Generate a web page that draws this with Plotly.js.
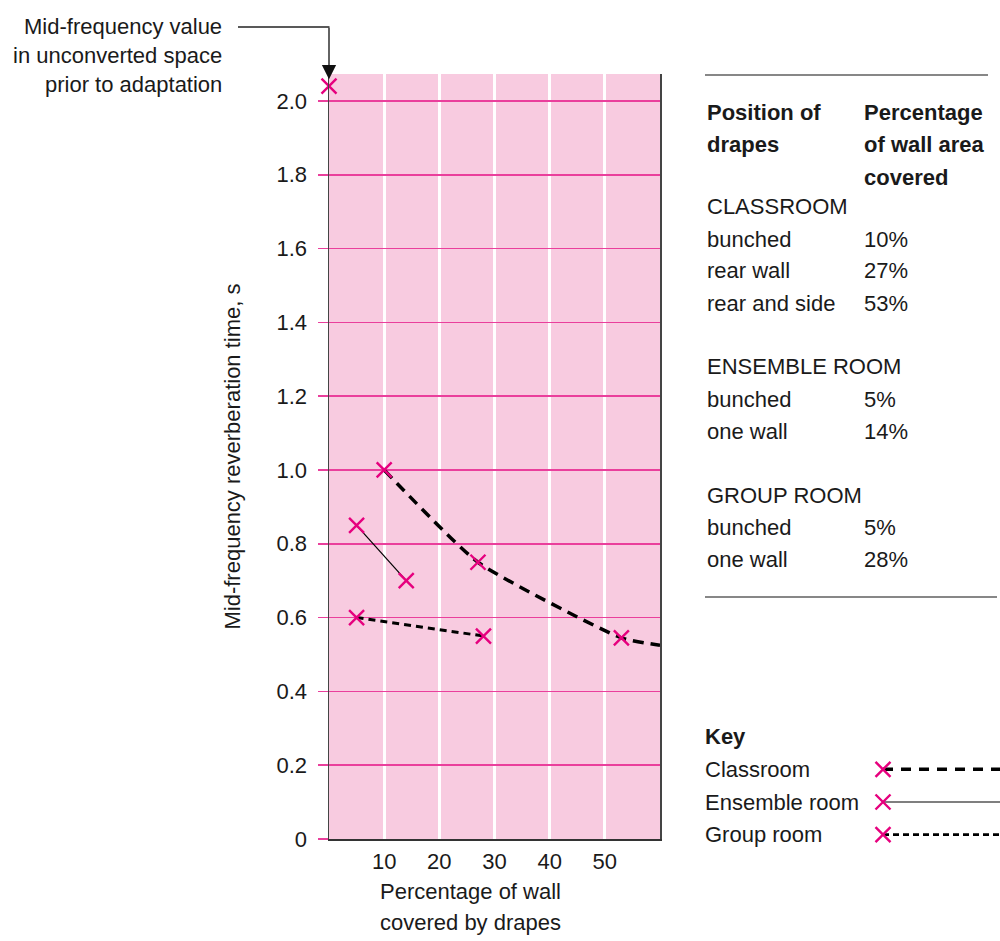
<!DOCTYPE html>
<html>
<head>
<meta charset="utf-8">
<script src="https://cdn.plot.ly/plotly-3.0.1.min.js"></script>
<style>html,body{margin:0;padding:0;background:#fff;}#chart{width:1000px;height:941px;}</style>
</head>
<body>
<div id="chart"></div>
<script>
// ---- data ----
const unconvertedPct = [0];
const unconvertedRT = [2.04];

const classroomPct = [10, 27, 53];
const classroomRT = [1.00, 0.75, 0.545];
const classroomTrendPct = [10, 27, 53, 60];
const classroomTrendRT = [1.00, 0.75, 0.545, 0.525];

const ensemblePct = [5, 14];
const ensembleRT = [0.85, 0.70];

const groupPct = [5, 28];
const groupRT = [0.60, 0.55];

const xTickVals = [10, 20, 30, 40, 50];
const yTickVals = [0, 0.2, 0.4, 0.6, 0.8, 1.0, 1.2, 1.4, 1.6, 1.8, 2.0];
const yTickText = ['0', '0.2', '0.4', '0.6', '0.8', '1.0', '1.2', '1.4', '1.6', '1.8', '2.0'];

const tableGroups = ['CLASSROOM', 'ENSEMBLE ROOM', 'GROUP ROOM'];
const classroomPositions = ['bunched', 'rear wall', 'rear and side'];
const classroomCoverage = [10, 27, 53];
const ensemblePositions = ['bunched', 'one wall'];
const ensembleCoverage = [5, 14];
const groupPositions = ['bunched', 'one wall'];
const groupCoverage = [5, 28];

const keyLabels = ['Classroom', 'Ensemble room', 'Group room'];

// ---- styling ----
const W = 1000, H = 941;
const px = x => x / W;
const py = y => (H - y) / H;
const FONT = 'Liberation Sans, Arial, sans-serif';
const TXT = '#1a1a1a';
const MAG = '#e6007e';
const PINK_BG = '#f8cbe0';
const PINK_GRID = '#ea3f9c';
const FS = 22;

const markerStyle = {symbol: 'x-thin', size: 15, color: MAG, line: {color: MAG, width: 2.4}};

const traces = [
  {x: classroomTrendPct, y: classroomTrendRT, mode: 'lines', line: {color: '#000', width: 3.5, dash: '11px,7px', shape: 'spline', smoothing: 0.5}},
  {x: ensemblePct, y: ensembleRT, mode: 'lines', line: {color: '#000', width: 1.2}},
  {x: groupPct, y: groupRT, mode: 'lines', line: {color: '#000', width: 3, dash: '7px,5px'}},
  {x: classroomPct, y: classroomRT, mode: 'markers', marker: markerStyle, cliponaxis: false},
  {x: ensemblePct, y: ensembleRT, mode: 'markers', marker: markerStyle, cliponaxis: false},
  {x: groupPct, y: groupRT, mode: 'markers', marker: markerStyle, cliponaxis: false},
  {x: unconvertedPct, y: unconvertedRT, mode: 'markers', marker: markerStyle, cliponaxis: false},
  // key samples
  {x: [0, 1.05], y: [1, 1], xaxis: 'x2', yaxis: 'y2', mode: 'lines', line: {color: '#000', width: 3.5, dash: '10px,8px'}, cliponaxis: false},
  {x: [0, 1.05], y: [2, 2], xaxis: 'x2', yaxis: 'y2', mode: 'lines', line: {color: '#555', width: 1.5}, cliponaxis: false},
  {x: [0, 1.05], y: [3, 3], xaxis: 'x2', yaxis: 'y2', mode: 'lines', line: {color: '#000', width: 2.8, dash: '6px,4px'}, cliponaxis: false},
  {x: [0, 0, 0], y: [1, 2, 3], xaxis: 'x2', yaxis: 'y2', mode: 'markers', marker: markerStyle, cliponaxis: false}
];
traces.forEach(t => { t.showlegend = false; t.hoverinfo = 'skip'; });

const annotations = [];
const shapes = [];
function txt(text, x, y, opts) {
  annotations.push(Object.assign({
    text: text, xref: 'paper', yref: 'paper', x: px(x), y: py(y),
    xanchor: 'left', yanchor: 'middle', showarrow: false,
    font: {family: FONT, size: FS, color: TXT}
  }, opts || {}));
}

// pink plot background (only for the main chart)
shapes.push({type: 'rect', xref: 'x domain', yref: 'y domain', x0: 0, x1: 1, y0: 0, y1: 1, fillcolor: PINK_BG, line: {width: 0}, layer: 'below'});

// Top-left note with elbow arrow
['Mid-frequency value', 'in unconverted space', 'prior to adaptation'].forEach((s, i) => {
  txt(s, 224, 26 + i * 29, {xanchor: 'right', align: 'right'});
});
shapes.push({type: 'line', xref: 'paper', yref: 'paper', x0: px(238), x1: px(329.5), y0: py(27), y1: py(27), line: {color: '#222', width: 1.3}});
annotations.push({
  x: unconvertedPct[0], y: unconvertedRT[0], xref: 'x', yref: 'y', text: '',
  showarrow: true, ax: 0, ay: -60, arrowhead: 2, arrowsize: 2.2, arrowwidth: 1.3,
  arrowcolor: '#111', standoff: 7
});

// Table
shapes.push({type: 'line', xref: 'paper', yref: 'paper', x0: px(705), x1: px(988), y0: py(75), y1: py(75), line: {color: '#111', width: 1.2}});
shapes.push({type: 'line', xref: 'paper', yref: 'paper', x0: px(705), x1: px(997), y0: py(597), y1: py(597), line: {color: '#111', width: 1.2}});
const COL1 = 705, COL2 = 862;
['Position of', 'drapes'].forEach((s, i) => txt('<b>' + s + '</b>', COL1, 112 + i * 32.5));
['Percentage', 'of wall area', 'covered'].forEach((s, i) => txt('<b>' + s + '</b>', COL2, 112 + i * 32.5));
const groups = [
  [classroomPositions, classroomCoverage],
  [ensemblePositions, ensembleCoverage],
  [groupPositions, groupCoverage]
];
let row = 0;
groups.forEach((g, gi) => {
  txt(tableGroups[gi], COL1, 207 + row * 32); row++;
  g[0].forEach((p, i) => {
    txt(p, COL1, 207 + row * 32);
    txt(g[1][i] + '%', COL2, 207 + row * 32);
    row++;
  });
  row++;
});

// Key
txt('<b>Key</b>', 703, 736);
keyLabels.forEach((s, i) => txt(s, 703, 769.5 + i * 32.5));

// X axis title (two lines, set slightly left of plot centre as in the original)
['Percentage of wall', 'covered by drapes'].forEach((s, i) => txt(s, 470, 891 + i * 31, {xanchor: 'center'}));

const layout = {
  width: W, height: H,
  margin: {l: 0, r: 0, t: 0, b: 0},
  paper_bgcolor: '#ffffff',
  plot_bgcolor: 'rgba(0,0,0,0)',
  font: {family: FONT, size: FS, color: TXT},
  showlegend: false,
  xaxis: {
    domain: [px(329), px(660)],
    range: [0, 60],
    tickvals: xTickVals,
    ticks: '',
    ticklabelstandoff: 2,
    showgrid: true, gridcolor: '#ffffff', gridwidth: 3,
    zeroline: false,
    showline: true, linecolor: '#333', linewidth: 1.5,
    tickfont: {family: FONT, size: 22, color: TXT},
    automargin: false
  },
  yaxis: {
    domain: [py(839), py(74)],
    range: [0, 2.073],
    tickvals: yTickVals, ticktext: yTickText,
    ticks: 'outside', ticklen: 10, tickcolor: PINK_GRID, tickwidth: 1.5,
    ticklabelstandoff: 6,
    showgrid: true, gridcolor: PINK_GRID, gridwidth: 1.5,
    zeroline: false,
    showline: true, mirror: true, linecolor: '#444', linewidth: 1.5,
    tickfont: {family: FONT, size: 22, color: TXT},
    title: {text: 'Mid-frequency reverberation time, s', font: {family: FONT, size: 22, color: TXT}, standoff: 30},
    automargin: false
  },
  xaxis2: {domain: [px(883), 1], range: [0, 1], visible: false, fixedrange: true},
  yaxis2: {domain: [py(851), py(753)], range: [3.5, 0.5], visible: false, fixedrange: true},
  annotations: annotations,
  shapes: shapes
};

Plotly.newPlot('chart', traces, layout, {staticPlot: true, displayModeBar: false});
</script>
</body>
</html>
